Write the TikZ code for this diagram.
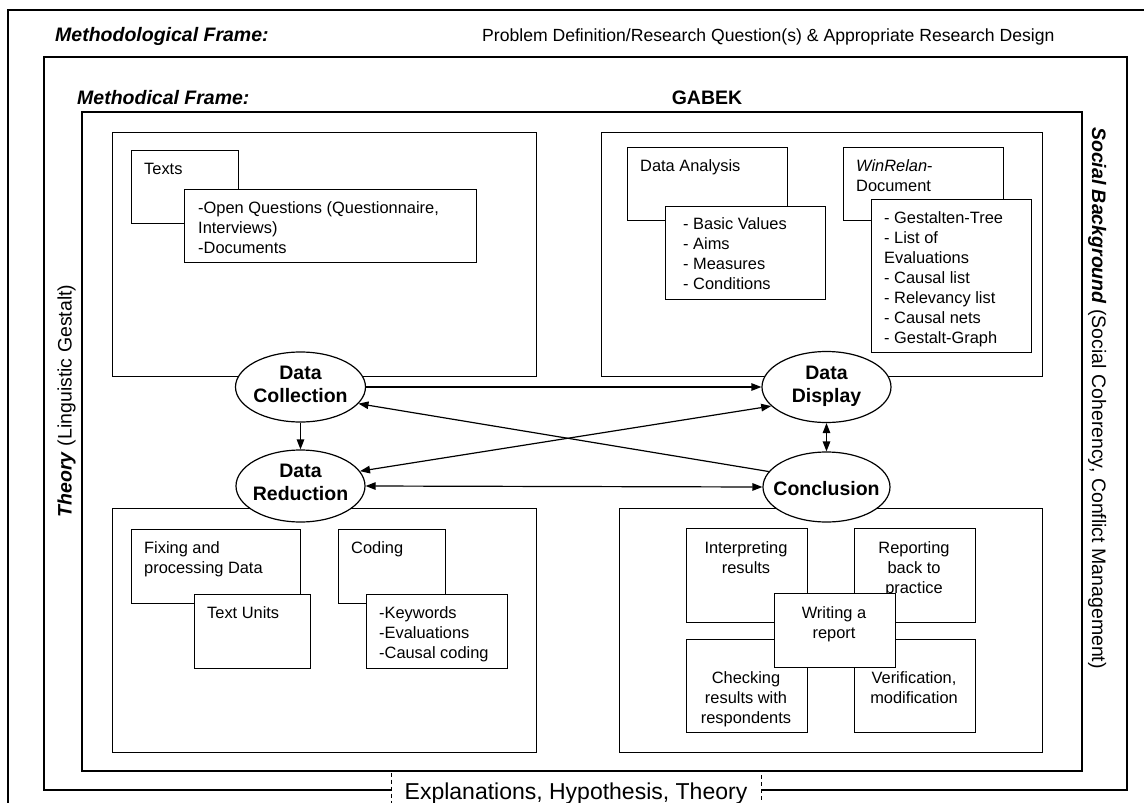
\documentclass[tikz,border=0pt]{standalone}
\usepackage{fontspec}
\setmainfont{Liberation Sans}
\usetikzlibrary{arrows.meta,shapes.geometric}
\begin{document}
\begin{tikzpicture}[x=1pt,y=-1pt,
  frame/.style={draw, line width=1.2pt},
  box/.style={draw, fill=white, line width=1.2pt, anchor=north west, inner sep=0pt},
  txt/.style={inner sep=0pt, anchor=north west, align=left, font=\fontsize{16.4}{20}\selectfont},
  ctxt/.style={inner sep=0pt, anchor=north, align=center, font=\fontsize{16.4}{20}\selectfont},
  ell/.style={draw, fill=white, ellipse, inner sep=0pt, line width=1.2pt},
  elab/.style={inner sep=0pt, align=center, font=\bfseries\fontsize{19.5}{23}\selectfont},
  title/.style={inner sep=0pt, anchor=base west, font=\bfseries\itshape\fontsize{19.5}{23}\selectfont},
  side/.style={inner sep=0pt, anchor=base, font=\fontsize{19.5}{23}\selectfont},
  arr/.style={-{Triangle[length=10pt,width=7.5pt]}, line width=1.2pt},
  darr/.style={{Triangle[length=10pt,width=7.5pt]}-{Triangle[length=10pt,width=7.5pt]}, line width=1.2pt}
]
\fill[white] (0,0) rectangle (1144,803);
\clip (0,0) rectangle (1144,803);

% frames
\draw[frame] (8,830) -- (8,10) -- (1170,10);
\draw[frame] (44,57) rectangle (1127,790);
\draw[frame] (82,112) rectangle (1082,771);

% dashed box at the bottom
\node[box, dash pattern=on 4pt off 3pt, line width=1pt, minimum width=370pt, minimum height=50pt] (expbox) at (391,771) {};
\node[inner sep=0pt, anchor=base, font=\fontsize{23}{27}\selectfont] (exptxt) at (576,799) {Explanations, Hypothesis, Theory};

% top labels
\node[title] (methodological) at (55,41) {Methodological Frame:};
\node[inner sep=0pt, anchor=base west, font=\fontsize{17.6}{21}\selectfont] (problem) at (482,41) {Problem Definition/Research Question(s) \& Appropriate Research Design};
\node[title] (methodical) at (77,104) {Methodical Frame:};
\node[inner sep=0pt, anchor=base, font=\bfseries\fontsize{19.5}{23}\selectfont] (gabek) at (707,104) {GABEK};

% side labels
\node[side, rotate=90] (theory) at (71.5,401) {\textbf{\textit{Theory}} (Linguistic Gestalt)};
\node[side, rotate=-90] (social) at (1092,398) {\textbf{\textit{Social Background}} (Social Coherency, Conflict Management)};

% quadrants
\node[box, minimum width=424pt, minimum height=244pt] (qtl) at (112,132) {};
\node[box, minimum width=441pt, minimum height=244pt] (qtr) at (601,132) {};
\node[box, minimum width=424pt, minimum height=244pt] (qbl) at (112,508) {};
\node[box, minimum width=423pt, minimum height=244pt] (qbr) at (619,508) {};

% top left contents
\node[box, minimum width=107pt, minimum height=73pt] (texts) at (131,150) {};
\node[txt] (textsl) at (144,160) {\strut Texts};
\node[box, minimum width=292pt, minimum height=73pt] (oq) at (184,189) {};
\node[txt] (oql) at (198,199) {\strut -Open Questions (Questionnaire,\\Interviews)\\-Documents};

% top right contents
\node[box, minimum width=160pt, minimum height=73pt] (da) at (627,147) {};
\node[txt] (dal) at (640,157) {\strut Data Analysis};
\node[box, minimum width=160pt, minimum height=93pt] (bv) at (665,206) {};
\node[txt] (bvl) at (683,215) {\strut - Basic Values\\- Aims\\- Measures\\- Conditions};
\node[box, minimum width=160pt, minimum height=73pt] (wr) at (843,147) {};
\node[txt] (wrl) at (856,157) {\strut \textit{WinRelan}-\\Document};
\node[box, minimum width=160pt, minimum height=153pt] (gt) at (871,199) {};
\node[txt] (gtl) at (884,209) {\strut - Gestalten-Tree\\- List of\\Evaluations\\- Causal list\\- Relevancy list\\- Causal nets\\- Gestalt-Graph};

% bottom left contents
\node[box, minimum width=169pt, minimum height=74pt] (fix) at (131,529) {};
\node[txt] (fixl) at (144,539) {\strut Fixing and\\processing Data};
\node[box, minimum width=116pt, minimum height=74pt] (tu) at (194,594) {};
\node[txt] (tul) at (207,604) {\strut Text Units};
\node[box, minimum width=107pt, minimum height=74pt] (cod) at (338,529) {};
\node[txt] (codl) at (351,539) {\strut Coding};
\node[box, minimum width=141pt, minimum height=74pt] (kw) at (366,594) {};
\node[txt] (kwl) at (379,604) {\strut -Keywords\\-Evaluations\\-Causal coding};

% bottom right contents
\node[box, minimum width=121pt, minimum height=94pt] (interp) at (686,528) {};
\node[ctxt] (interpl) at (746,539) {\strut Interpreting\\results};
\node[box, minimum width=121pt, minimum height=94pt] (report) at (854,528) {};
\node[ctxt] (reportl) at (914,539) {\strut Reporting\\back to\\practice};
\node[box, minimum width=121pt, minimum height=93pt] (check) at (686,639) {};
\node[ctxt] (checkl) at (746,669) {\strut Checking\\results with\\respondents};
\node[box, minimum width=121pt, minimum height=93pt] (verif) at (854,639) {};
\node[ctxt] (verifl) at (914,669) {\strut Verification,\\modification};
\node[box, minimum width=121pt, minimum height=74pt] (write) at (774,593) {};
\node[ctxt] (writel) at (834,604) {\strut Writing a\\report};

% ellipses
\node[ell, minimum width=130pt, minimum height=70pt] (dc) at (300.5,387) {};
\node[elab] (dcl) at ([yshift=3pt]dc.center) {Data\\Collection};
\node[ell, minimum width=129pt, minimum height=72pt] (dr) at (300.5,486) {};
\node[elab] (drl) at ([yshift=4pt]dr.center) {Data\\Reduction};
\node[ell, minimum width=129pt, minimum height=71pt] (dd) at (826.5,387) {};
\node[elab] (ddl) at ([yshift=1pt]dd.center) {Data\\Display};
\node[ell, minimum width=127pt, minimum height=70pt] (conc) at (826.5,487) {};
\node[elab] (concl) at ([yshift=-2pt]conc.center) {Conclusion};

% connectors
\draw[arr] (dc.east) -- (dd.west);
\draw[arr] (dc.south) -- (dr.north);
\draw[arr] (conc.165) -- (dc.-16);
\draw[darr] (dr.14) -- (dd.-161);
\draw[darr] (dr.east) -- (conc.west);
\draw[darr] (dd.south) -- (conc.north);
\end{tikzpicture}
\end{document}
